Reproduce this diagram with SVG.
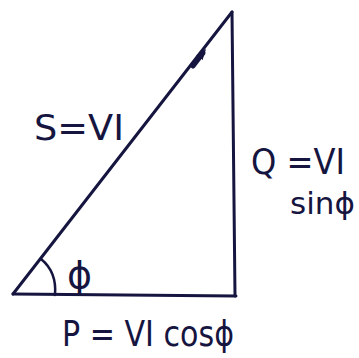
<svg xmlns="http://www.w3.org/2000/svg" width="359" height="358" viewBox="0 0 359 358">
<style>
.ln{stroke:#15153f;stroke-width:3;fill:none;stroke-linecap:round}
.t{font-family:"DejaVu Sans","Liberation Sans",sans-serif;fill:#15153f;font-size:36px}
</style>
<defs>
<marker id="ah" markerWidth="12" markerHeight="12" refX="6" refY="6" orient="auto" markerUnits="userSpaceOnUse">
<path d="M0,2 L11,6 L0,10 Z" fill="#15153f"/>
</marker>
</defs>
<rect width="359" height="358" fill="#fff"/>
<g id="connectors">
<path class="ln" d="M13,294 L232,12"/>
<path class="ln" d="M232,12 L235,296"/>
<path class="ln" d="M13,294 L236,296"/>
<path d="M193,66 L203,53" class="ln" style="stroke-width:5" marker-end="url(#ah)"/>
<path class="ln" style="stroke-width:2.5" d="M41,259 Q57,272 55,295"/>
</g>
<g id="angle"><text class="t" x="67" y="288" style="font-size:38px">ϕ</text></g>
<g id="S"><text class="t" x="34" y="140" textLength="90" lengthAdjust="spacingAndGlyphs">S=VI</text></g>
<g id="Q"><text class="t" x="251" y="174" textLength="94" lengthAdjust="spacingAndGlyphs">Q =VI</text>
<text class="t" x="290" y="214" style="font-size:31px">sinϕ</text></g>
<g id="P"><text class="t" x="62" y="346" textLength="172" lengthAdjust="spacingAndGlyphs">P = VI cosϕ</text></g>
</svg>
